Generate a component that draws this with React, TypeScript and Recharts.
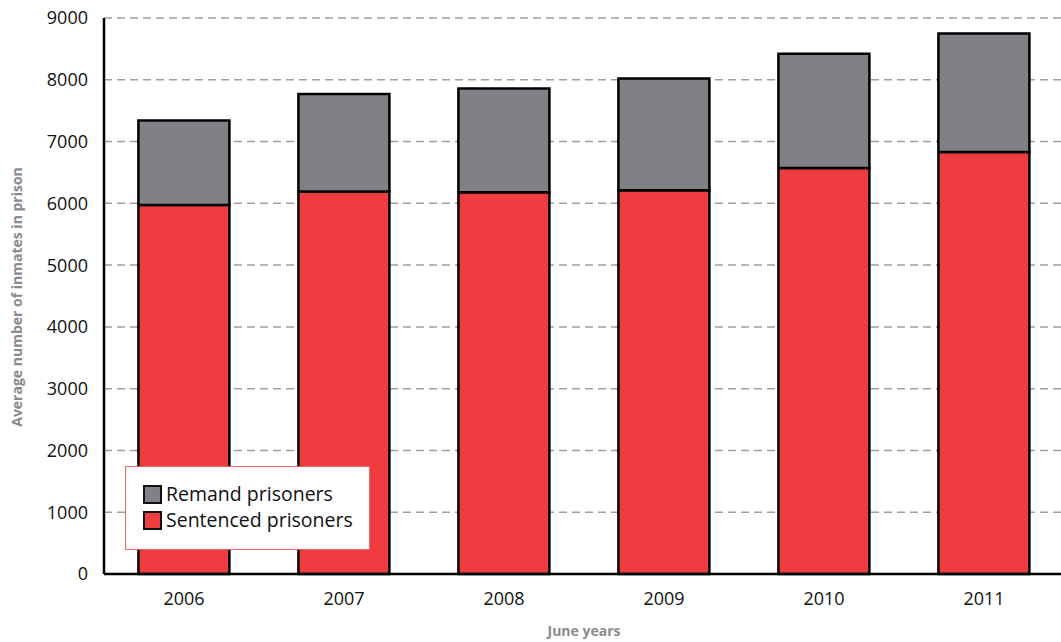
import React from 'react';
import { BarChart, Bar, XAxis, YAxis, CartesianGrid } from 'recharts';

const years = ['2006', '2007', '2008', '2009', '2010', '2011'];
const sentenced = [5975, 6190, 6180, 6210, 6570, 6830];
const remand = [1365, 1580, 1680, 1810, 1850, 1920];
const yTicks = [0, 1000, 2000, 3000, 4000, 5000, 6000, 7000, 8000, 9000];

const RED = '#ee3c40';
const GREY = '#7f8184';
const FONT = '"Open Sans", "Noto Sans", sans-serif';

const data = years.map((year, i) => ({
  year,
  sentenced: sentenced[i],
  remand: remand[i],
}));

// legend sits over the plot, so it's drawn as an overlay rather than a recharts Legend
const LegendBox = () => (
  <div
    style={{
      position: 'absolute',
      left: 125,
      top: 466,
      background: '#fff',
      border: '1.5px solid #f06a6c',
      width: 245,
      height: 84,
      boxSizing: 'border-box',
      padding: '14px 0 0 17px',
      fontFamily: FONT,
      fontSize: 19.5,
      color: '#111',
      lineHeight: '26px',
    }}
  >
    {[
      { label: 'Remand prisoners', color: GREY },
      { label: 'Sentenced prisoners', color: RED },
    ].map((item) => (
      <div key={item.label} style={{ display: 'flex', alignItems: 'center' }}>
        <span
          style={{
            display: 'inline-block',
            width: 15,
            height: 15,
            background: item.color,
            border: '2px solid #111',
            marginRight: 4,
          }}
        />
        {item.label}
      </div>
    ))}
  </div>
);

const YLabel = () => (
  <text
    x={16}
    y={297}
    transform="rotate(-90 16 297)"
    textAnchor="middle"
    dominantBaseline="central"
    fill="#8a8b8d"
    fontSize={14}
    fontWeight={700}
    fontFamily={FONT}
  >
    Average number of inmates in prison
  </text>
);

export default function App() {
  return (
    <div style={{ position: 'absolute', left: 0, top: 0, width: 1061, height: 642, overflow: 'hidden', background: '#fff' }}>
      <BarChart
        width={1070}
        height={642}
        data={data}
        margin={{ top: 18, right: 6, bottom: 30, left: 0 }}
        barCategoryGap="21.5%"
      >
        <CartesianGrid vertical={false} stroke="#a0a0a0" strokeDasharray="8 5" strokeWidth={1.5} />
        <XAxis
          dataKey="year"
          height={38}
          tickLine={false}
          axisLine={{ stroke: '#000', strokeWidth: 2.5 }}
          tickMargin={12}
          tick={{ fill: '#111', fontSize: 18, fontFamily: FONT }}
          label={{
            value: 'June years',
            position: 'insideBottom',
            offset: -24,
            fill: '#8a8b8d',
            fontSize: 14,
            fontWeight: 700,
            fontFamily: FONT,
          }}
        />
        <YAxis
          width={104}
          domain={[0, 9000]}
          ticks={yTicks}
          interval={0}
          tickLine={false}
          axisLine={{ stroke: '#000', strokeWidth: 2.5 }}
          tickMargin={10}
          tick={{ fill: '#111', fontSize: 18, fontFamily: FONT }}
        />
        <Bar dataKey="sentenced" stackId="a" fill={RED} stroke="#000" strokeWidth={2.5} isAnimationActive={false} />
        <Bar dataKey="remand" stackId="a" fill={GREY} stroke="#000" strokeWidth={2.5} isAnimationActive={false} />
        <YLabel />
      </BarChart>
      <LegendBox />
    </div>
  );
}
